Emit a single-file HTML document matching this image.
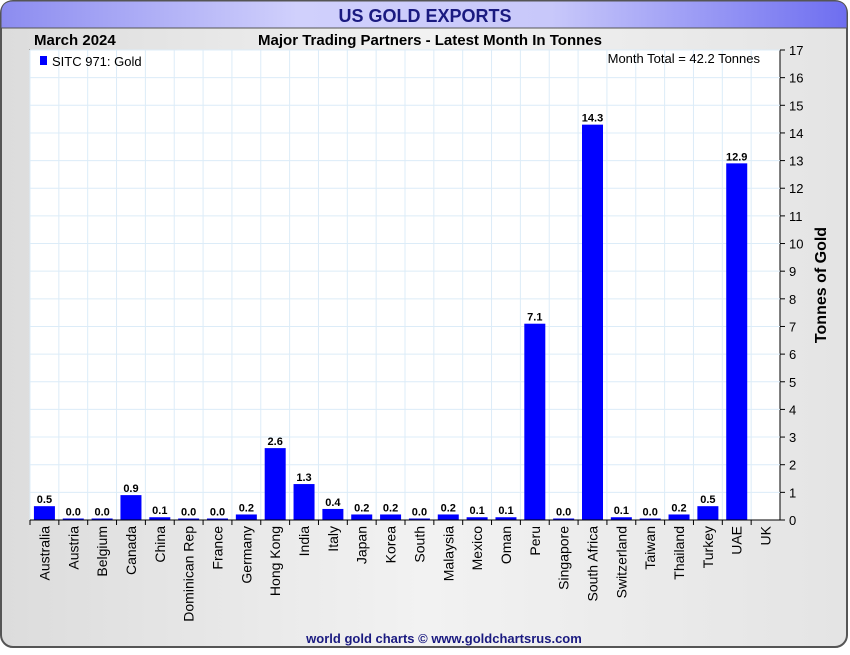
<!DOCTYPE html>
<html><head><meta charset="utf-8"><style>
body{margin:0;width:850px;height:650px;overflow:hidden;font-family:"Liberation Sans",sans-serif;background:#fff}
</style></head><body>
<svg width="850" height="650" xmlns="http://www.w3.org/2000/svg">
<defs>
<linearGradient id="bg" x1="0" y1="0" x2="1" y2="0"><stop offset="0" stop-color="#dcdcdc"/><stop offset="0.5" stop-color="#f2f2f2"/><stop offset="1" stop-color="#e4e4e4"/></linearGradient>
<linearGradient id="tb" x1="0" y1="0" x2="1" y2="0"><stop offset="0" stop-color="#8c8cf0"/><stop offset="0.35" stop-color="#d0d0fc"/><stop offset="0.65" stop-color="#c8c8fa"/><stop offset="1" stop-color="#6e6ef0"/></linearGradient>
</defs>
<rect x="1" y="1" width="846" height="646" rx="12" fill="url(#bg)" stroke="#555" stroke-width="2"/>
<path d="M1,28 L1,13 Q1,1 13,1 L835,1 Q847,1 847,13 L847,28 Z" fill="url(#tb)" stroke="#555" stroke-width="1"/>
<text x="425" y="22" text-anchor="middle" font-size="18" font-weight="bold" fill="#1a1a80">US GOLD EXPORTS</text>
<text x="34" y="45" font-size="15" font-weight="bold">March 2024</text>
<text x="430" y="45" text-anchor="middle" font-size="15" font-weight="bold">Major Trading Partners - Latest Month In Tonnes</text>
<rect x="30" y="50" width="750" height="470" fill="#fff" stroke="#000"/>
<g id="grid"></g>
<g id="bars"></g>
<g id="axes"></g>
<rect x="40" y="56" width="7" height="9" fill="#0000ff"/>
<text x="52" y="66" font-size="13">SITC 971: Gold</text>
<text x="760" y="63" text-anchor="end" font-size="13">Month Total = 42.2 Tonnes</text>
<text transform="translate(826,285) rotate(-90)" text-anchor="middle" font-size="16" font-weight="bold">Tonnes of Gold</text>
<text x="444" y="643" text-anchor="middle" font-size="13" font-weight="bold" fill="#1a1a80">world gold charts © www.goldchartsrus.com</text>
</svg>
<script>
const categories=["Australia","Austria","Belgium","Canada","China","Dominican Rep","France","Germany","Hong Kong","India","Italy","Japan","Korea","South","Malaysia","Mexico","Oman","Peru","Singapore","South Africa","Switzerland","Taiwan","Thailand","Turkey","UAE","UK"];
const values=[0.5,0.0,0.0,0.9,0.1,0.0,0.0,0.2,2.6,1.3,0.4,0.2,0.2,0.0,0.2,0.1,0.1,7.1,0.0,14.3,0.1,0.0,0.2,0.5,12.9,null];
const yTicks=[0,1,2,3,4,5,6,7,8,9,10,11,12,13,14,15,16,17];
const NS="http://www.w3.org/2000/svg";
const L=30,R=780,T=50,B=520,yMax=17;
const bw=(R-L)/categories.length;
const y=v=>B-(v/yMax)*(B-T);
const x=i=>L+i*bw;
function mk(tag,attrs,parent){const e=document.createElementNS(NS,tag);for(const k in attrs)e.setAttribute(k,attrs[k]);document.getElementById(parent).appendChild(e);return e;}
yTicks.forEach(t=>{
 const g=mk('line',{x1:L,x2:R,y1:y(t),y2:y(t),stroke:'#dcecf8','stroke-width':1},'grid');
 
 
 const tk=mk('line',{x1:R,x2:R+5,y1:y(t),y2:y(t),stroke:'#000'},'axes');
 
 
 const lb=mk('text',{x:R+9,y:y(t)+5,'font-size':13},'axes');lb.textContent=t;
 
 
});
categories.forEach((c,i)=>{
 const gx=mk('line',{x1:x(i),x2:x(i),y1:T,y2:B,stroke:'#dcecf8'},'grid');
 
 
 const tk=mk('line',{x1:x(i),x2:x(i),y1:B,y2:B+5,stroke:'#000'},'axes');
 
 
 const cx=x(i)+bw/2;
 const lb=mk('text',{transform:`translate(${cx+5},${B+6}) rotate(-90)`,'text-anchor':'end','font-size':14},'axes');lb.textContent=c;
 
 
 const v=values[i];
 if(v===null)return;
 const h=Math.max(1.5,B-y(v));
 const b=mk('rect',{x:cx-10.5,y:B-h,width:21,height:h,fill:'#0000ff'},'bars');
 
 
 const vl=mk('text',{x:cx,y:B-h-3,'text-anchor':'middle','font-size':11,'font-weight':'bold'},'bars');vl.textContent=v.toFixed(1);
 
 
});
const ax=mk('line',{x1:L,x2:R,y1:B,y2:B,stroke:'#000'},'axes');


</script>
</body></html>
